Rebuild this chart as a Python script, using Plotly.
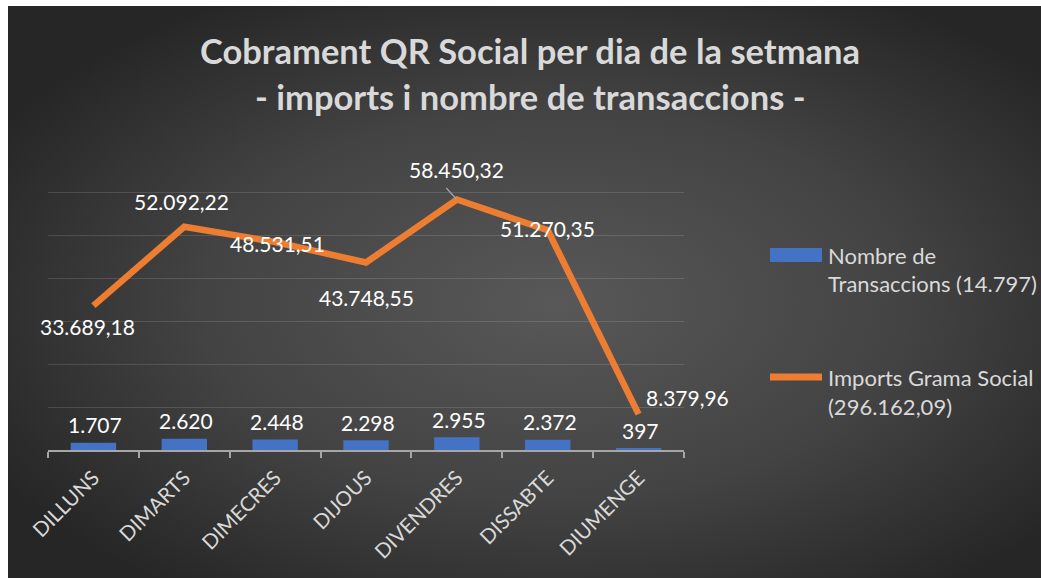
import base64
import plotly.graph_objects as go

# ---------------- data ----------------
categories = ["DILLUNS", "DIMARTS", "DIMECRES", "DIJOUS", "DIVENDRES", "DISSABTE", "DIUMENGE"]
transactions = [1707, 2620, 2448, 2298, 2955, 2372, 397]
amounts = [33689.18, 52092.22, 48531.51, 43748.55, 58450.32, 51270.35, 8379.96]
title_lines = ["Cobrament QR Social per dia de la setmana", "- imports i nombre de transaccions -"]
legend_bar = ["Nombre de", "Transaccions (14.797)"]
legend_line = ["Imports Grama Social", "(296.162,09)"]


def fmt(v, dec):
    s = f"{v:,.{dec}f}"
    return s.replace(",", "X").replace(".", ",").replace("X", ".")


W, H = 1041, 578
BGX, BGY = 8, 6  # where the dark chart area starts
# plot area in page px
L, R, T, B = 48, 684, 150, 450


def px(xp):
    return (xp - L) / (R - L)


def py(yp):
    return (B - yp) / (B - T)


TXT = "#d9d9d9"
FONT = "Lato"

fig = go.Figure()
fig.add_trace(go.Bar(x=categories, y=transactions, width=0.5,
                     marker=dict(color="#4472C4", line=dict(width=0)),
                     name="Nombre de Transaccions (14.797)", showlegend=False,
                     hoverinfo="x+y"))
fig.add_trace(go.Scatter(x=categories, y=amounts, mode="lines",
                         line=dict(color="#ED7D31", width=6.5),
                         name="Imports Grama Social (296.162,09)", showlegend=False))

annotations = []
# bar labels
for c, v in zip(categories, transactions):
    annotations.append(dict(x=c, y=v, xref="x", yref="y", text=fmt(v, 0), showarrow=False,
                            yanchor="middle", yshift=18, xshift=2,
                            font=dict(family=FONT, size=21, color="#ffffff")))
# line labels
line_offsets = [(-6, -21, "center"), (-3, 25, "center"), (2, -1, "center"), (0, -35, "center"),
                (0, 30, "center"), (0, 2, "center"), (5, 17, "left")]
for c, v, (dx, dy, xa) in zip(categories, amounts, line_offsets):
    annotations.append(dict(x=c, y=v, xref="x", yref="y", text=fmt(v, 2), showarrow=False,
                            xanchor=xa, yanchor="middle", xshift=dx, yshift=dy,
                            font=dict(family=FONT, size=21, color="#ffffff")))
# leader line for the DIVENDRES label
annotations.append(dict(x=categories[4], y=amounts[4], xref="x", yref="y", text="",
                        showarrow=True, arrowhead=0, arrowwidth=1.2, arrowcolor="#a6a6a6",
                        ax=-12, ay=-13, standoff=1))

# title
for line, yy in zip(title_lines, [50, 97]):
    annotations.append(dict(x=px(530), y=py(yy), xref="paper", yref="paper", text=f"<b>{line}</b>",
                            showarrow=False, xanchor="center", yanchor="middle",
                            font=dict(family=FONT, size=34.5, color=TXT)))

# legend texts
for txt, yy in [(legend_bar[0], 255), (legend_bar[1], 283), (legend_line[0], 377), (legend_line[1], 406)]:
    annotations.append(dict(x=px(826), y=py(yy), xref="paper", yref="paper", text=txt, showarrow=False,
                            xanchor="left", yanchor="middle",
                            font=dict(family=FONT, size=22, color=TXT)))

# background gradient
GW, GH = W - BGX, H - BGY
svg = f'''<svg xmlns="http://www.w3.org/2000/svg" width="{GW}" height="{GH}" viewBox="0 0 {GW} {GH}" preserveAspectRatio="none">
<defs><radialGradient id="g" cx="0.53" cy="0.52" r="0.62" gradientUnits="objectBoundingBox">
<stop offset="0" stop-color="#585858"/><stop offset="0.55" stop-color="#434343"/><stop offset="1" stop-color="#262626"/></radialGradient></defs>
<rect x="0" y="0" width="{GW}" height="{GH}" fill="url(#g)"/></svg>'''
src = "data:image/svg+xml;base64," + base64.b64encode(svg.encode()).decode()

shapes = [
    dict(type="rect", xref="paper", yref="paper", x0=px(770), x1=px(822), y0=py(262), y1=py(248),
         fillcolor="#4472C4", line=dict(width=0)),
    dict(type="line", xref="paper", yref="paper", x0=px(770), x1=px(822), y0=py(377), y1=py(377),
         line=dict(color="#ED7D31", width=7)),
]

fig.update_layout(
    width=W, height=H,
    margin=dict(l=L, r=W - R, t=T, b=H - B, pad=0),
    paper_bgcolor="#ffffff",
    plot_bgcolor="rgba(0,0,0,0)",
    images=[dict(source=src, xref="paper", yref="paper", x=px(BGX), y=py(BGY),
                 sizex=GW / (R - L), sizey=GH / (B - T),
                 xanchor="left", yanchor="top", sizing="stretch", layer="below")],
    shapes=shapes,
    annotations=annotations,
    showlegend=False,
    bargap=0.5,
    xaxis=dict(type="category", tickangle=-45, tickson="boundaries", ticks="outside", ticklen=6,
               tickcolor="#a6a6a6", tickwidth=1.5, showline=True, linecolor="#a6a6a6", linewidth=1.5,
               showgrid=False, tickfont=dict(family=FONT, size=20.5, color=TXT), range=[-0.5, 6.5],
               ticklabelstandoff=6),
    yaxis=dict(range=[0, 70000], dtick=10000, showgrid=True, gridcolor="rgba(255,255,255,0.13)",
               gridwidth=1, showticklabels=False, zeroline=False, ticks=""),
)

post = "document.body.style.margin='0';document.body.style.overflow='hidden';"
fig.write_html("out.html", post_script=post, config={"displayModeBar": False})
